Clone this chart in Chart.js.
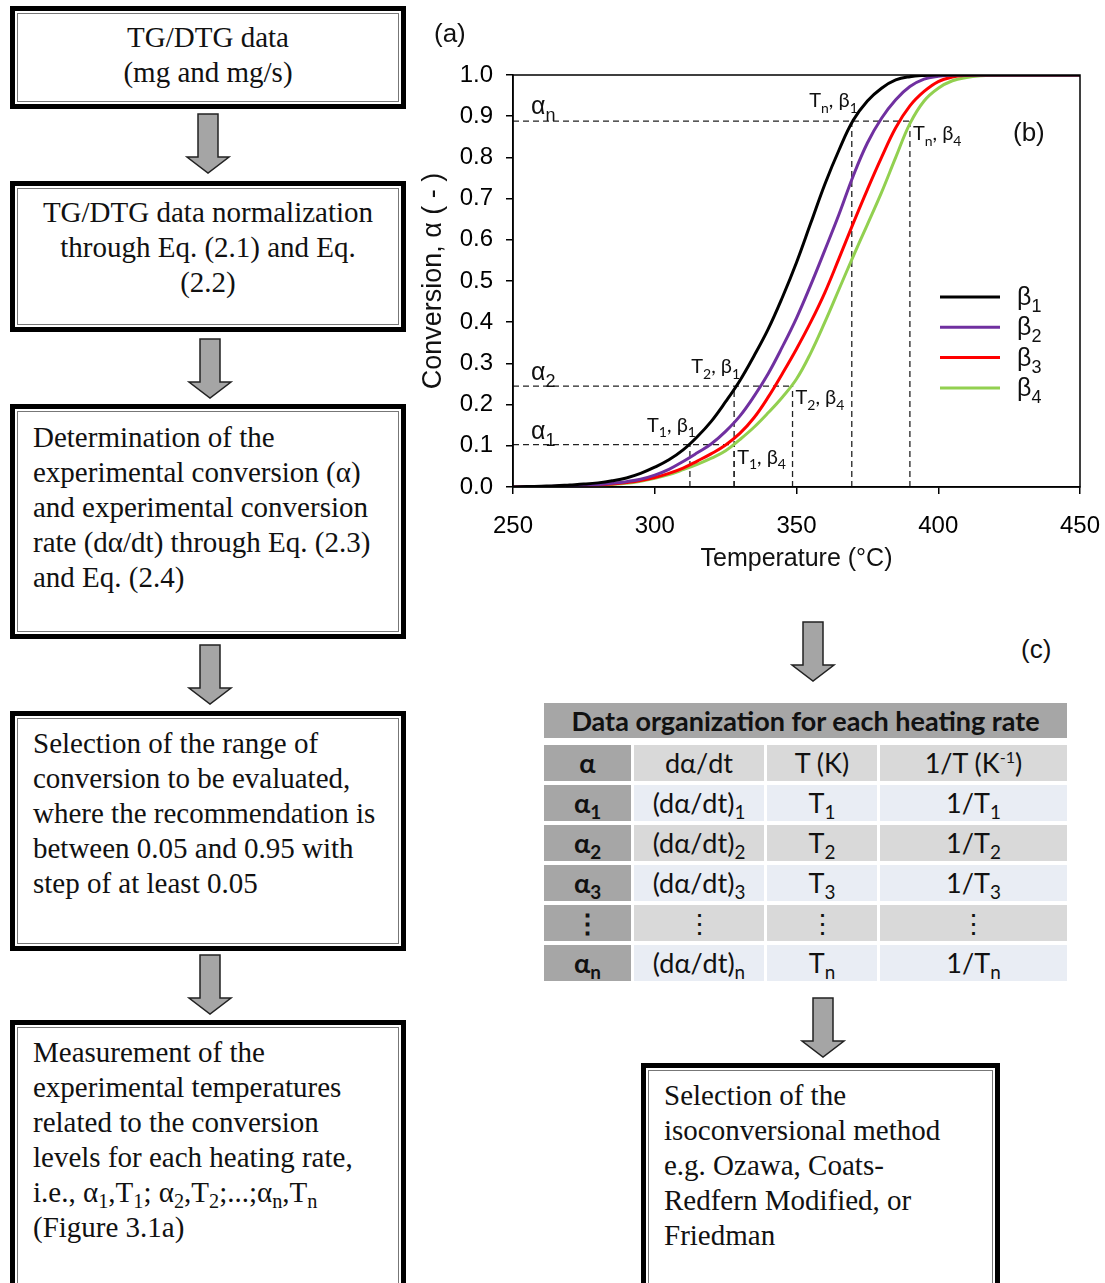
<!DOCTYPE html>
<html>
<head>
<meta charset="utf-8">
<script src="https://cdn.jsdelivr.net/npm/chart.js@4.4.0/dist/chart.umd.min.js"></script>
<style>
  body { margin: 0; background: #fff; }
  #page { position: relative; width: 1105px; height: 1283px; overflow: hidden; font-family: "Liberation Serif", "Times New Roman", serif; }
  .box { position: absolute; box-sizing: border-box; border: 5px solid #000; background: #fff;
         box-shadow: inset 0 0 0 2px #fff, inset 0 0 0 3px #777; }
  .txt { position: absolute; font-size: 29px; line-height: 35px; color: #111; white-space: nowrap; }
  .lbl { position: absolute; font-family: "Liberation Sans", Arial, sans-serif; font-size: 26px; color: #111; }
  svg.arr { position: absolute; overflow: visible; }
  #chart { position: absolute; left: 420px; top: 20px; }
  #title { position: absolute; left: 544px; top: 703px; width: 523px; height: 35px; background: #a6a6a6;
           font: bold 27px Lato, "Open Sans", sans-serif; text-align: center; line-height: 35px; color: #111; }
  table { position: absolute; left: 541px; top: 741px; border-collapse: separate; border-spacing: 3px 4px;
          font: 27px Lato, "Open Sans", sans-serif; color: #111; }
  td { text-align: center; height: 36px; padding: 0; line-height: 30px; }
  td.a { background: #a6a6a6; font-weight: bold; width: 87px; }
  tr.h td { background: #d9d9d9; }
  tr.b td { background: #e9edf4; }
  tr.g td { background: #d9d9d9; }
  tr td.a { background: #a6a6a6; }
  sub { font-size: 0.7em; vertical-align: -0.3em; line-height: 0; }
  sup { font-size: 0.6em; vertical-align: 0.6em; line-height: 0; }
</style>
</head>
<body>
<div id="page">
  <!-- flowchart, left column -->
  <div class="box" style="left:10px;top:6px;width:396px;height:103px"></div>
  <div class="txt" style="left:10px;top:20px;width:396px;text-align:center">TG/DTG data<br>(mg and mg/s)</div>

  <div class="box" style="left:10px;top:181px;width:396px;height:151px"></div>
  <div class="txt" style="left:10px;top:195px;width:396px;text-align:center">TG/DTG data normalization<br>through Eq. (2.1) and Eq.<br>(2.2)</div>

  <div class="box" style="left:10px;top:404px;width:396px;height:235px"></div>
  <div class="txt" style="left:33px;top:420px">Determination of the<br>experimental conversion (α)<br>and experimental conversion<br>rate (dα/dt) through Eq. (2.3)<br>and Eq. (2.4)</div>

  <div class="box" style="left:10px;top:711px;width:396px;height:240px"></div>
  <div class="txt" style="left:33px;top:726px">Selection of the range of<br>conversion to be evaluated,<br>where the recommendation is<br>between 0.05 and 0.95 with<br>step of at least 0.05</div>

  <div class="box" style="left:10px;top:1020px;width:396px;height:280px"></div>
  <div class="txt" style="left:33px;top:1035px">Measurement of the<br>experimental temperatures<br>related to the conversion<br>levels for each heating rate,<br>i.e., α<sub>1</sub>,T<sub>1</sub>; α<sub>2</sub>,T<sub>2</sub>;...;α<sub>n</sub>,T<sub>n</sub><br>(Figure 3.1a)</div>

  <div class="box" style="left:641px;top:1063px;width:359px;height:240px"></div>
  <div class="txt" style="left:664px;top:1078px">Selection of the<br>isoconversional method<br>e.g. Ozawa, Coats-<br>Redfern Modified, or<br>Friedman</div>

  <!-- arrows -->
  <svg class="arr" style="left:187px;top:114px" width="42" height="60"><polygon points="11,0 31,0 31,43 42,43 21,59 0,43 11,43" fill="#a5a5a5" stroke="#222" stroke-width="1.5"/></svg>
  <svg class="arr" style="left:189px;top:339px" width="42" height="60"><polygon points="11,0 31,0 31,43 42,43 21,59 0,43 11,43" fill="#a5a5a5" stroke="#222" stroke-width="1.5"/></svg>
  <svg class="arr" style="left:189px;top:645px" width="42" height="60"><polygon points="11,0 31,0 31,43 42,43 21,59 0,43 11,43" fill="#a5a5a5" stroke="#222" stroke-width="1.5"/></svg>
  <svg class="arr" style="left:189px;top:955px" width="42" height="60"><polygon points="11,0 31,0 31,43 42,43 21,59 0,43 11,43" fill="#a5a5a5" stroke="#222" stroke-width="1.5"/></svg>
  <svg class="arr" style="left:792px;top:622px" width="42" height="60"><polygon points="11,0 31,0 31,43 42,43 21,59 0,43 11,43" fill="#a5a5a5" stroke="#222" stroke-width="1.5"/></svg>
  <svg class="arr" style="left:802px;top:998px" width="42" height="60"><polygon points="11,0 31,0 31,43 42,43 21,59 0,43 11,43" fill="#a5a5a5" stroke="#222" stroke-width="1.5"/></svg>

  <!-- chart -->
  <canvas id="chart" width="685" height="560"></canvas>
  <div class="lbl" style="left:434px;top:18px">(a)</div>
  <div class="lbl" style="left:1013px;top:117px">(b)</div>
  <div class="lbl" style="left:1021px;top:634px">(c)</div>

  <!-- data table -->
  <div id="title">Data organization for each heating rate</div>
  <table>
    <tr class="h"><td class="a">α</td><td style="width:130px">dα/dt</td><td style="width:110px">T (K)</td><td style="width:187px">1/T (K<sup>-1</sup>)</td></tr>
    <tr class="b"><td class="a">α<sub>1</sub></td><td>(dα/dt)<sub>1</sub></td><td>T<sub>1</sub></td><td>1/T<sub>1</sub></td></tr>
    <tr class="g"><td class="a">α<sub>2</sub></td><td>(dα/dt)<sub>2</sub></td><td>T<sub>2</sub></td><td>1/T<sub>2</sub></td></tr>
    <tr class="b"><td class="a">α<sub>3</sub></td><td>(dα/dt)<sub>3</sub></td><td>T<sub>3</sub></td><td>1/T<sub>3</sub></td></tr>
    <tr class="g"><td class="a">⋮</td><td>⋮</td><td>⋮</td><td>⋮</td></tr>
    <tr class="b"><td class="a">α<sub>n</sub></td><td>(dα/dt)<sub>n</sub></td><td>T<sub>n</sub></td><td>1/T<sub>n</sub></td></tr>
  </table>
</div>

<script>
// conversion curves
const TEMPS = [250, 255, 260, 265, 270, 275, 280, 285, 290, 295, 300, 305, 310, 315, 320, 325, 330, 335, 340, 345,
  350, 355, 360, 365, 370, 375, 380, 385, 390, 395, 400, 405, 410, 415, 420, 425, 430, 435, 440, 445, 450];
const BETA1 = [0, 0.001, 0.002, 0.003, 0.005, 0.007, 0.010, 0.015, 0.022, 0.033, 0.048, 0.066, 0.090, 0.122, 0.160, 0.207,
  0.258, 0.318, 0.383, 0.460, 0.545, 0.640, 0.735, 0.818, 0.890, 0.937, 0.968, 0.988, 0.996, 0.999, 1, 1, 1, 1, 1, 1, 1, 1, 1, 1, 1];
const BETA2 = [0, 0.0005, 0.001, 0.002, 0.003, 0.004, 0.006, 0.009, 0.013, 0.019, 0.029, 0.043, 0.062, 0.083, 0.105, 0.135,
  0.172, 0.220, 0.275, 0.340, 0.410, 0.490, 0.575, 0.662, 0.755, 0.835, 0.895, 0.940, 0.972, 0.990, 0.997, 1, 1, 1, 1, 1, 1, 1, 1, 1, 1];
const BETA3 = [0, 0.0005, 0.001, 0.0015, 0.002, 0.003, 0.005, 0.007, 0.011, 0.016, 0.023, 0.033, 0.046, 0.063, 0.081, 0.102,
  0.130, 0.168, 0.218, 0.275, 0.335, 0.400, 0.472, 0.555, 0.640, 0.722, 0.800, 0.872, 0.925, 0.960, 0.984, 0.995, 0.999, 1, 1, 1, 1, 1, 1, 1, 1];
const BETA4 = [0, 0.0003, 0.001, 0.0015, 0.002, 0.003, 0.004, 0.006, 0.009, 0.014, 0.021, 0.030, 0.042, 0.055, 0.070, 0.088,
  0.115, 0.145, 0.180, 0.218, 0.262, 0.325, 0.400, 0.480, 0.560, 0.637, 0.715, 0.800, 0.882, 0.937, 0.968, 0.986, 0.994, 0.998, 0.9995, 1, 1, 1, 1, 1, 1];
const SERIES_NAMES = ['1', '2', '3', '4'];
const SERIES_COLORS = ['#000000', '#7030a0', '#ff0000', '#92d050'];

// isoconversional guide lines: alpha_1, alpha_2, alpha_n
const ALPHA_LEVELS = [0.103, 0.245, 0.888];
const T_BETA1 = [312.4, 328, 369.5];
const T_BETA4 = [328, 348.6, 390];
const ALPHA_SUBS = ['1', '2', 'n'];

const X_MIN = 250, X_MAX = 450, X_STEP = 50;
const Y_MIN = 0, Y_MAX = 1, Y_STEP = 0.1;

const curves = [BETA1, BETA2, BETA3, BETA4].map((vals, i) => ({
  data: TEMPS.map((t, j) => ({ x: t, y: vals[j] })),
  borderColor: SERIES_COLORS[i],
  borderWidth: 3,
  pointRadius: 0,
  tension: 0.4,
  fill: false
}));

const guides = [];
ALPHA_LEVELS.forEach((a, i) => {
  const segs = [
    [{ x: X_MIN, y: a }, { x: T_BETA4[i], y: a }],
    [{ x: T_BETA1[i], y: 0 }, { x: T_BETA1[i], y: a }],
    [{ x: T_BETA4[i], y: 0 }, { x: T_BETA4[i], y: a }]
  ];
  segs.forEach(s => guides.push({
    data: s, borderColor: '#222', borderWidth: 1.3, borderDash: [6, 4], pointRadius: 0, tension: 0, fill: false
  }));
});

const sans = '"Liberation Sans", Arial, sans-serif';

function rich(ctx, parts, x, y, size, family, align) {
  const big = size + 'px ' + family;
  const small = Math.round(size * 0.7) + 'px ' + family;
  let w = 0;
  parts.forEach(p => { ctx.font = p[1] ? small : big; w += ctx.measureText(p[0]).width; });
  let cx = align === 'right' ? x - w : x;
  ctx.textAlign = 'left';
  ctx.textBaseline = 'alphabetic';
  parts.forEach(p => {
    ctx.font = p[1] ? small : big;
    ctx.fillText(p[0], cx, p[1] ? y + size * 0.28 : y);
    cx += ctx.measureText(p[0]).width;
  });
}

const overlay = {
  id: 'overlay',
  afterDraw(chart) {
    const { ctx, chartArea: ca, scales: { x, y } } = chart;
    ctx.save();
    ctx.strokeStyle = '#000';
    ctx.lineWidth = 1.5;
    ctx.strokeRect(ca.left, ca.top, ca.right - ca.left, ca.bottom - ca.top);
    ctx.fillStyle = '#111';

    // alpha labels on the left
    const aOff = [6, 6, 7];
    ALPHA_LEVELS.forEach((a, i) => {
      rich(ctx, [['α', false], [ALPHA_SUBS[i], true]], ca.left + 18, y.getPixelForValue(a) - aOff[i], 25, sans, 'left');
    });

    // T, beta labels
    const lab = 'Lato, "Open Sans", sans-serif';
    const upB1 = [13, 13, 14];
    const dnB4 = [19, 18, 19];
    ALPHA_LEVELS.forEach((a, i) => {
      const py = y.getPixelForValue(a);
      rich(ctx, [['T', false], [ALPHA_SUBS[i], true], [', β', false], ['1', true]],
        x.getPixelForValue(T_BETA1[i]) + 6, py - upB1[i], 20, lab, 'right');
      rich(ctx, [['T', false], [ALPHA_SUBS[i], true], [', β', false], ['4', true]],
        x.getPixelForValue(T_BETA4[i]) + 3, py + dnB4[i], 20, lab, 'left');
    });

    // legend
    SERIES_NAMES.forEach((n, i) => {
      const ly = ca.top + 222 + i * 30.3;
      ctx.strokeStyle = SERIES_COLORS[i];
      ctx.lineWidth = 3;
      ctx.beginPath();
      ctx.moveTo(ca.left + 427, ly);
      ctx.lineTo(ca.left + 487, ly);
      ctx.stroke();
      rich(ctx, [['β', false], [n, true]], ca.left + 504, ly + 8, 25, sans, 'left');
    });
    ctx.restore();
  }
};

const tickFont = { family: sans, size: 24 };

new Chart(document.getElementById('chart'), {
  type: 'line',
  data: { datasets: curves.concat(guides) },
  options: {
    responsive: false,
    animation: false,
    layout: { padding: { top: 55, right: 25, left: 0, bottom: 0 } },
    plugins: { legend: { display: false }, tooltip: { enabled: false } },
    scales: {
      x: {
        type: 'linear', min: X_MIN, max: X_MAX,
        ticks: { stepSize: X_STEP, padding: 18, color: '#000', font: tickFont },
        grid: { drawOnChartArea: false, color: '#000', tickLength: 7, lineWidth: 1.5 },
        border: { color: '#000', width: 1.5 },
        title: { display: true, text: 'Temperature (°C)', color: '#111', font: { family: sans, size: 25 }, padding: { top: 0, bottom: 6 } },
        afterFit(s) { s.height = 93; s.paddingLeft = 0; s.paddingRight = 0; }
      },
      y: {
        type: 'linear', min: Y_MIN, max: Y_MAX,
        ticks: { stepSize: Y_STEP, padding: 13, color: '#000', font: tickFont, callback: v => v.toFixed(1) },
        grid: { drawOnChartArea: false, color: '#000', tickLength: 7, lineWidth: 1.5 },
        border: { color: '#000', width: 1.5 },
        title: { display: true, text: 'Conversion, α ( - )', color: '#111', font: { family: sans, size: 27 }, padding: { top: -3, bottom: 0 } },
        afterFit(s) { s.width = 93; s.paddingTop = 0; s.paddingBottom = 0; }
      }
    }
  },
  plugins: [overlay]
});
</script>
</body>
</html>
